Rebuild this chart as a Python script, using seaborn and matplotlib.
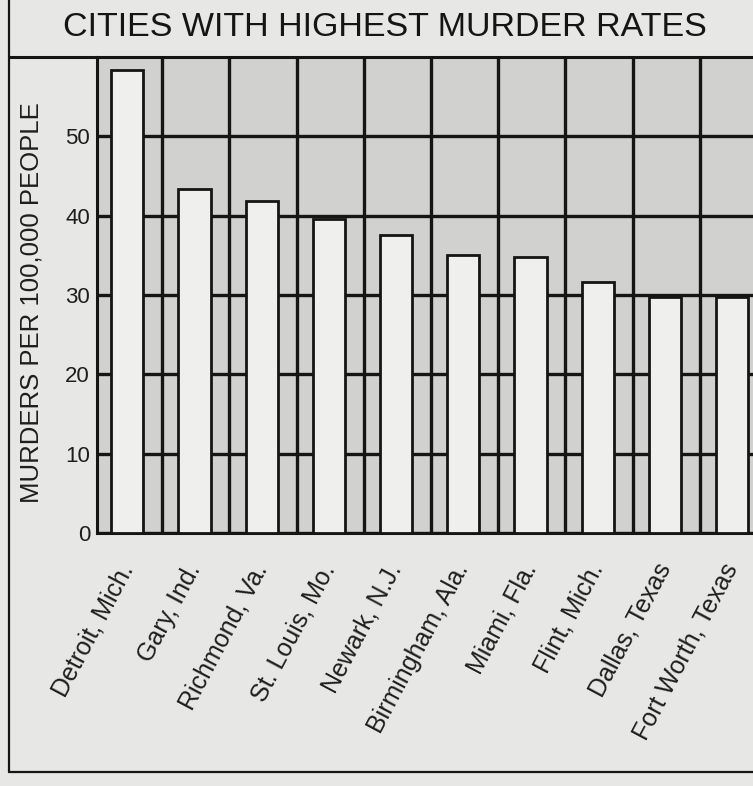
import matplotlib
matplotlib.use("Agg")
import matplotlib.pyplot as plt
import matplotlib.ticker as mticker
from matplotlib.lines import Line2D
import seaborn as sns
import pandas as pd

cities = ["Detroit, Mich.", "Gary, Ind.", "Richmond, Va.", "St. Louis, Mo.",
          "Newark, N.J.", "Birmingham, Ala.", "Miami, Fla.", "Flint, Mich.",
          "Dallas, Texas", "Fort Worth, Texas"]
rates = [58.4, 43.3, 41.8, 39.6, 37.6, 35.0, 34.8, 31.7, 29.8, 29.8]
yticks = [0, 10, 20, 30, 40, 50]
title = "CITIES WITH HIGHEST MURDER RATES"
ylabel = "MURDERS PER 100,000 PEOPLE"

paper = "#e7e7e5"
shade = "#d1d1cf"
barfill = "#efefed"
ink = "#151515"
textc = "#1e1e1e"

sns.set_style("white")
plt.rcParams["font.family"] = ["Liberation Sans", "DejaVu Sans"]

df = pd.DataFrame({"city": cities, "rate": rates})

fig = plt.figure(figsize=(7.53, 7.86), dpi=100, facecolor=paper)
ax = fig.add_axes([97/753, 1-533/786, 1-97/753, (533-57)/786])
ax.set_facecolor(shade)

sns.barplot(data=df, x="city", y="rate", ax=ax, color=barfill,
            edgecolor=ink, linewidth=2.0, width=0.48, saturation=1, zorder=3)
for p in ax.patches:
    p.set_facecolor(barfill)

ax.set_xlim(-0.45, 9.31)
ax.set_ylim(0, 60)
ax.set_yticks(yticks)
ax.xaxis.set_minor_locator(mticker.FixedLocator([i + 0.52 for i in range(10)]))
ax.set_axisbelow(True)
ax.grid(False)
ax.grid(True, which="minor", axis="x", color=ink, linewidth=2.4)
ax.grid(True, which="major", axis="y", color=ink, linewidth=2.4)

ax.tick_params(axis="both", which="both", length=0)
ax.tick_params(axis="y", labelsize=16, labelcolor=textc, pad=5)
ax.tick_params(axis="x", labelsize=18, labelcolor=textc, pad=23)
for lab in ax.get_xticklabels():
    lab.set_rotation(62)
    lab.set_ha("right")
    lab.set_va("center")
    lab.set_rotation_mode("anchor")

ax.set_xlabel("")
ax.set_ylabel(ylabel, fontsize=18.5, color=textc)
ax.yaxis.set_label_coords(-0.082, 0.485)

ax.spines["right"].set_visible(False)
for s in ["left", "bottom", "top"]:
    ax.spines[s].set_color(ink)
    ax.spines[s].set_linewidth(2.2)

fig.text(385/753, 1-28/786, title, ha="center", va="center",
         fontsize=24.5, color=ink)

# figure frame lines
fig.add_artist(Line2D([9/753, 9/753], [1-772/786, 1.0], transform=fig.transFigure,
                      color=ink, linewidth=1.6))
fig.add_artist(Line2D([9/753, 1.0], [1-772/786, 1-772/786], transform=fig.transFigure,
                      color=ink, linewidth=1.6))
fig.add_artist(Line2D([9/753, 97/753], [1-57/786, 1-57/786], transform=fig.transFigure,
                      color=ink, linewidth=2.2))

fig.savefig("out.png", dpi=100, facecolor=paper)
